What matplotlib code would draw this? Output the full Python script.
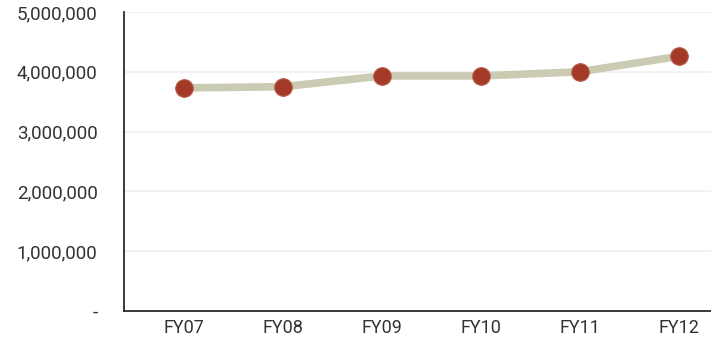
import matplotlib.pyplot as plt
from matplotlib.ticker import FuncFormatter

years = ["FY07", "FY08", "FY09", "FY10", "FY11", "FY12"]
values = [3730000, 3750000, 3930000, 3930000, 4000000, 4260000]
yticks = [0, 1000000, 2000000, 3000000, 4000000, 5000000]

plt.rcParams['font.family'] = ['Roboto', 'DejaVu Sans']

fig = plt.figure(figsize=(7.11, 3.41), dpi=100)
ax = fig.add_axes([0.1744, 0.088, 0.8256, 0.877])

xs = list(range(len(years)))
ax.plot(xs, values, color="#cbcbb4", linewidth=5.5, solid_capstyle="round", zorder=2)
ax.scatter(xs, values, s=160, color="#a33a28", edgecolors="#b85a48", linewidths=0.8, zorder=3)

ax.set_xlim(-0.606, 5.32)
ax.set_ylim(0, 5000000)
ax.set_xticks(xs)
ax.set_xticklabels(years)
ax.set_yticks(yticks)
ax.yaxis.set_major_formatter(FuncFormatter(lambda v, p: "-" if v == 0 else "{:,.0f}".format(v)))

ax.grid(axis="y", color="#f0f0f0", linewidth=1.2)
ax.set_axisbelow(True)
for s in ["top", "right"]:
    ax.spines[s].set_visible(False)
ax.spines["left"].set_color("#2a2a2a")
ax.spines["bottom"].set_color("#2a2a2a")
ax.spines["left"].set_linewidth(1.3)
ax.spines["bottom"].set_linewidth(1.3)
ax.tick_params(axis="y", length=0, pad=19, labelsize=13.5, labelcolor="#333333")
ax.tick_params(axis="x", length=0, pad=6, labelsize=13, labelcolor="#333333")

fig.savefig("out.png", dpi=100)
